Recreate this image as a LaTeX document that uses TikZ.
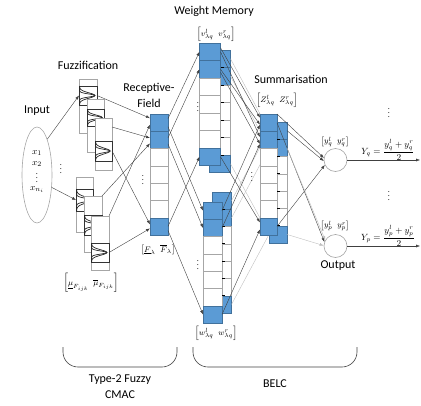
\documentclass[tikz,border=0pt]{standalone}
\usepackage{amsmath}
\usepackage{fontspec}
\setmainfont{Carlito}
\usetikzlibrary{arrows.meta,shapes.geometric}

\definecolor{cellblue}{HTML}{5B9BD5}
\definecolor{cellblueedge}{HTML}{41719C}
\definecolor{celledge}{HTML}{A6A6A6}
\definecolor{wire}{HTML}{404040}
\definecolor{wirelight}{HTML}{BFBFBF}

\tikzset{
  title/.style={font=\fontsize{12}{13}\selectfont, inner sep=0pt},
  mlabel/.style={font=\fontsize{8.5}{9.5}\selectfont, inner sep=0pt},
  xlabel/.style={font=\fontsize{9.5}{10}\selectfont, inner sep=0pt},
  dotsym/.style={font=\fontsize{8}{9}\selectfont, inner sep=0pt},
  cellb/.style={draw=cellblueedge, fill=cellblue, line width=0.6pt, inner sep=0pt, outer sep=0pt},
  cellw/.style={draw=celledge, fill=white, line width=0.6pt, inner sep=0pt, outer sep=0pt},
  fzcol/.style={draw=celledge, fill=white, line width=0.6pt, inner sep=0pt, outer sep=0pt},
  mfbox/.style={draw=black!80, fill=white, line width=0.8pt, inner sep=0pt, outer sep=0pt},
  mfcurve/.style={draw=black!85, line width=0.7pt},
  wire/.style={draw=wire, line width=0.4pt},
  wirel/.style={draw=wirelight, line width=0.4pt},
  arr/.style={-{Latex[length=4pt,width=3pt]}},
  tick/.style={draw=black, line width=0.9pt},
  brace/.style={draw=black!75, line width=0.6pt, rounded corners=15pt},
  outnode/.style={circle, draw=celledge, fill=white, line width=0.6pt, minimum size=23pt, inner sep=0pt},
}

% one column of seven memory cells: name prefix, x centre, width, top, cell height
\newcommand\cellcolumn[5]{%
  \foreach \k/\sty in {1/cellb,2/cellb,3/cellw,4/cellw,5/cellw,6/cellw,7/cellb}{
    \node[\sty, minimum width=#3pt, minimum height=#5pt] (#1\k) at (#2, {#4+(\k-0.5)*#5}) {};
  }}

\begin{document}
\begin{tikzpicture}[x=1pt,y=-1pt]
\useasboundingbox (0,0) rectangle (421,405);

% ---------- titles ----------
\node[title] (tw) at (214,11) {Weight Memory};
\node[title] (tf) at (88,65) {Fuzzification};
\node[title] (tr1) at (149,88) {Receptive-};
\node[title] (tr2) at (149,103) {Field};
\node[title] (ti) at (37,111) {Input};
\node[title] (ts) at (291,79) {Summarisation};
\node[title] (to) at (338,266) {Output};
\node[title] (tt1) at (120,380) {Type-2 Fuzzy};
\node[title] (tt2) at (120,395) {CMAC};
\node[title] (tb) at (275,384) {BELC};

% ---------- input ----------
\node[ellipse, draw=celledge, line width=0.6pt, minimum width=30pt, minimum height=96pt, inner sep=0pt] (inp) at (37,175) {};
\node[xlabel] (x1) at (37,153) {$x_1$};
\node[xlabel] (x2) at (37,164) {$x_2$};
\node[dotsym] (xd) at (37,175) {$\vdots$};
\node[xlabel] (xn) at (37,190) {$x_{n_i}$};

% ---------- fuzzification: stacked membership-function cards ----------
\foreach \n/\xa/\xb/\ya/\yb/\ma/\mb in {
  ta/79/97/79/133/86/105, tb/87/104/99/152/109/126, tc/95/112/118/170/141/161,
  ba/76/93/177/232/189/211, bb/84/102/196/252/215/235, bc/91/109/216/270/243/262}{
  \node[fzcol, minimum width={(\xb-\xa)*1pt}, minimum height={(\yb-\ya)*1pt}] (\n) at ({(\xa+\xb)/2},{(\ya+\yb)/2}) {};
  \node[mfbox, minimum width={(\xb-\xa)*1pt}, minimum height={(\mb-\ma)*1pt}] (mf\n) at ({(\xa+\xb)/2},{(\ma+\mb)/2}) {};
  \draw[mfcurve] plot[domain=-1:1, samples=31, smooth] ({\xa+0.6+0.85*(\xb-\xa)*exp(-(\x*\x)/0.16)}, {(\ma+\mb)/2+\x*(\mb-\ma)/2});
  \draw[mfcurve] plot[domain=-1:1, samples=31, smooth] ({\xa+0.6+0.85*(\xb-\xa)*exp(-(\x*\x)/0.05)}, {(\ma+\mb)/2+\x*(\mb-\ma)/2});
}
\node[dotsym] (fd) at (61,166) {$\vdots$};
\node[mlabel] (mul) at (91,283) {$\left[\underline{\mu}_{F_{ijk}}\;\;\overline{\mu}_{F_{ijk}}\right]$};

% ---------- receptive field ----------
\cellcolumn{rf}{159}{18}{114}{17.3}
\node[dotsym] (rd) at (143,177) {$\vdots$};
\node[mlabel] (rfl) at (158,250) {$\left[\underline{F}_{\lambda}\;\;\overline{F}_{\lambda}\right]$};

% ---------- weight memory ----------
\cellcolumn{bv}{220}{21}{50}{17.5}
\cellcolumn{wv}{210}{21}{43}{17.5}
\cellcolumn{bw}{222}{19}{192}{17.3}
\cellcolumn{ww}{212.5}{19}{202}{17.3}
\foreach \k in {1,...,6}{
  \draw[tick] (220.5,{50+17.5*\k}) -- (223.5,{50+17.5*\k});
  \draw[tick] (222,{192+17.3*\k}) -- (225,{192+17.3*\k});
}
\node[dotsym] (wd1) at (198,104) {$\vdots$};
\node[dotsym] (wd2) at (198,262) {$\vdots$};
\node[mlabel] (vl) at (216,34) {$\left[v^{l}_{\lambda q}\;\;v^{r}_{\lambda q}\right]$};
\node[mlabel] (wl) at (216,333) {$\left[w^{l}_{\lambda q}\;\;w^{r}_{\lambda q}\right]$};

% ---------- summarisation (rear column, its light feeds, front column) ----------
\cellcolumn{sb}{278}{18}{122}{17.3}
\draw[wirel] (bv1.east) -- (sb1.west);
\draw[wirel] (bv2.east) -- (sb2.west);
\draw[wirel] (bw1.east) -- (sb1.west);
\draw[wirel] (bw2.east) -- (sb2.west);
\draw[wirel] (bv7.east) -- (sb7.west);
\draw[wirel] (bw7.east) -- (sb7.west);
\cellcolumn{s}{268.5}{17}{114}{17.3}
\foreach \k in {1,...,6}{
  \draw[tick] (277,{122+17.3*\k}) -- (280,{122+17.3*\k});
}
\node[dotsym] (sd) at (252,174) {$\vdots$};
\node[mlabel] (zl) at (277,100) {$\left[Z^{l}_{\lambda q}\;\;Z^{r}_{\lambda q}\right]$};

% ---------- output ----------
\node[outnode] (oq) at (335.5,160) {};
\node[outnode] (op) at (335.5,246) {};
\node[mlabel] (yql) at (335,142) {$\left[y^{l}_{q}\;\;y^{r}_{q}\right]$};
\node[mlabel] (ypl) at (335,226) {$\left[y^{l}_{p}\;\;y^{r}_{p}\right]$};
\node[mlabel, font=\fontsize{9}{10}\selectfont] (yq) at (388,150) {$Y_q=\dfrac{y^{l}_{q}+y^{r}_{q}}{2}$};
\node[mlabel, font=\fontsize{9}{10}\selectfont] (yp) at (388,236) {$Y_p=\dfrac{y^{l}_{p}+y^{r}_{p}}{2}$};
\node[dotsym] (od1) at (389,110) {$\vdots$};
\node[dotsym] (od2) at (389,193) {$\vdots$};
\coordinate (yqend) at (420,160);
\coordinate (ypend) at (420,246);

% ---------- wires ----------
% input to fuzzification
\draw[wire,arr] (inp.74) -- (mfta.west);
\draw[wire,arr] (inp.-40) -- (mfba.west);
% fuzzification to receptive field
\draw[wire,arr] (mfta.east) -- ([yshift=4.5pt]rf1.west);
\draw[wire,arr] ([yshift=17pt]tc.east) -- ([yshift=2pt]rf2.west);
\draw[wire,arr] (bb.north east) -- ([yshift=-3.5pt]rf2.west);
\draw[wire,arr] (bc.north east) -- ([yshift=-2pt]rf1.west);
\draw[wire,arr] (mftc.east) -- ([yshift=2pt]rf7.west);
\draw[wire,arr] (mfbc.east) -- ([yshift=-2pt]rf7.west);
% receptive field to weight memory
\draw[wire,arr] ([yshift=4pt]rf1.east) -- (wv1.west);
\draw[wire,arr] ([yshift=2pt]rf2.east) -- (wv2.west);
\draw[wire,arr] (rf7.east) -- (wv7.west);
\draw[wire,arr] ([yshift=-4pt]rf1.east) -- (ww1.west);
\draw[wire,arr] ([yshift=-4pt]rf2.east) -- (ww2.west);
\draw[wire,arr] ([yshift=-4pt]rf7.east) -- (ww7.west);
% weight memory to summarisation
\draw[wire,arr] ([yshift=4pt]wv1.east) -- ([yshift=5pt]s1.west);
\draw[wire,arr] (wv1.east) -- ([yshift=3pt]s2.west);
\draw[wire,arr] (wv2.east) -- ([yshift=-2pt]s1.west);
\draw[wire,arr] ([yshift=-3pt]wv2.east) -- ([yshift=-4pt]s2.west);
\draw[wire,arr] (ww1.east) -- ([yshift=-2pt]s1.west);
\draw[wire,arr] (ww2.east) -- ([yshift=-4pt]s2.west);
\draw[wire,arr] (wv7.east) -- ([yshift=4pt]s7.west);
\draw[wire,arr] (ww7.east) -- ([yshift=-3pt]s7.west);
% summarisation to output
\draw[wire,arr] (s1.north east) -- (oq.170);
\draw[wire,arr] (sb1.east) -- (oq.185);
\draw[wire,arr] (s7.east) -- (oq.205);
\draw[wire,arr] (s1.east) -- (op.160);
\draw[wirel,arr] (sb2.east) -- (op.150);
\draw[wirel,arr] (sb7.east) -- (op.178);
\draw[wire,arr] (oq) -- (yqend);
\draw[wire,arr] (op) -- (ypend);

% ---------- group brackets ----------
\draw[brace] (63,347) -- (63,367) -- (177,367) -- (177,347);
\draw[brace] (193,347) -- (193,367) -- (357,367) -- (357,347);
\end{tikzpicture}
\end{document}
